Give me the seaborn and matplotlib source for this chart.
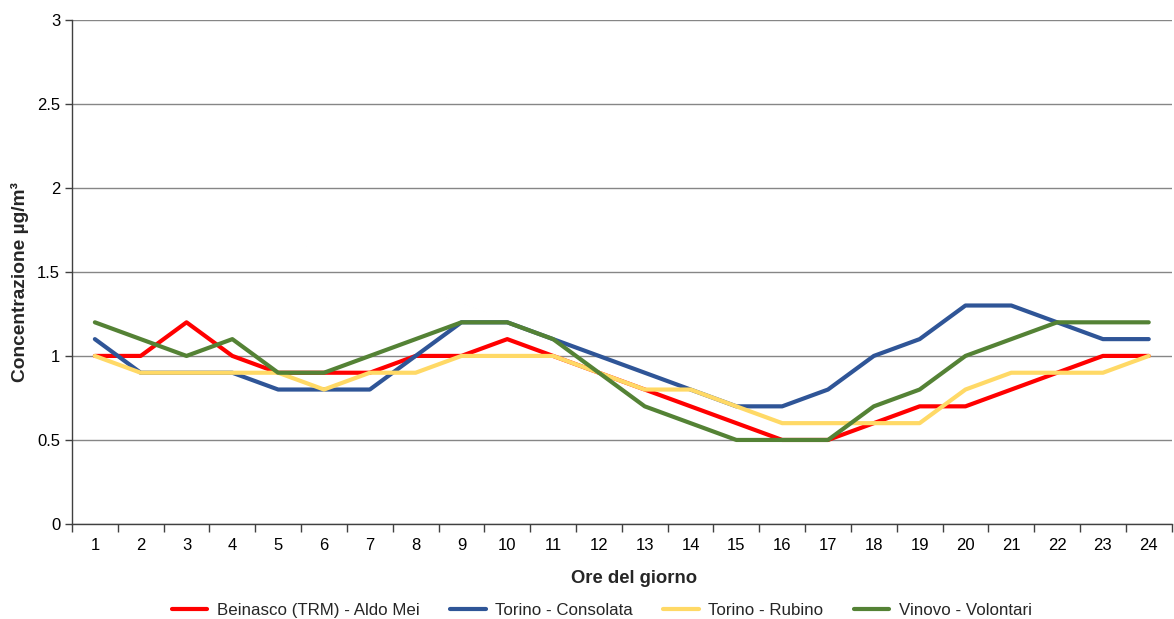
import numpy as np
import pandas as pd
import matplotlib
matplotlib.use("Agg")
import matplotlib.pyplot as plt
import seaborn as sns
from matplotlib.ticker import FixedLocator, FuncFormatter

hours = list(range(1, 25))

beinasco = [1.0, 1.0, 1.2, 1.0, 0.9, 0.9, 0.9, 1.0, 1.0, 1.1, 1.0, 0.9,
            0.8, 0.7, 0.6, 0.5, 0.5, 0.6, 0.7, 0.7, 0.8, 0.9, 1.0, 1.0]
consolata = [1.1, 0.9, 0.9, 0.9, 0.8, 0.8, 0.8, 1.0, 1.2, 1.2, 1.1, 1.0,
             0.9, 0.8, 0.7, 0.7, 0.8, 1.0, 1.1, 1.3, 1.3, 1.2, 1.1, 1.1]
rubino = [1.0, 0.9, 0.9, 0.9, 0.9, 0.8, 0.9, 0.9, 1.0, 1.0, 1.0, 0.9,
          0.8, 0.8, 0.7, 0.6, 0.6, 0.6, 0.6, 0.8, 0.9, 0.9, 0.9, 1.0]
vinovo = [1.2, 1.1, 1.0, 1.1, 0.9, 0.9, 1.0, 1.1, 1.2, 1.2, 1.1, 0.9,
          0.7, 0.6, 0.5, 0.5, 0.5, 0.7, 0.8, 1.0, 1.1, 1.2, 1.2, 1.2]

stations = ["Beinasco (TRM) - Aldo Mei", "Torino - Consolata",
            "Torino - Rubino", "Vinovo - Volontari"]
colors = ["#FF0000", "#2F5597", "#FFD966", "#548235"]

df = pd.concat([
    pd.DataFrame({"Ora": hours, "Valore": vals, "Stazione": name})
    for name, vals in zip(stations, [beinasco, consolata, rubino, vinovo])
])

sns.set_theme(style="white")
plt.rcParams["font.family"] = ["Liberation Sans", "DejaVu Sans"]

fig = plt.figure(figsize=(11.74, 6.19), dpi=100)
ax = fig.add_axes([0.0613, 0.1535, 0.9367, 0.8145])

sns.lineplot(data=df, x="Ora", y="Valore", hue="Stazione",
             palette=dict(zip(stations, colors)), linewidth=3,
             ax=ax, legend=True, zorder=3)

ax.set_xlim(0.5, 24.5)
ax.set_ylim(0, 3)
ax.set_yticks(np.arange(0, 3.01, 0.5))
ax.yaxis.set_major_formatter(FuncFormatter(lambda v, _: f"{v:g}"))
ax.grid(axis="y", color="#868686", linewidth=1)
ax.grid(axis="x", visible=False)
ax.set_axisbelow(True)

ax.set_xticks(hours)
ax.set_xticklabels([str(h) for h in hours])
ax.xaxis.set_minor_locator(FixedLocator(np.arange(0.5, 24.6, 1)))
ax.tick_params(axis="x", which="major", length=0, pad=10, labelsize=12,
               colors="black")
ax.tick_params(axis="x", which="minor", length=6, width=1, color="#404040",
               direction="out", bottom=True)
ax.tick_params(axis="y", which="major", length=5, width=1, color="#404040",
               direction="out", left=True, labelsize=12, colors="black")

for side in ["top", "right"]:
    ax.spines[side].set_visible(False)
for side in ["left", "bottom"]:
    ax.spines[side].set_color("#404040")
    ax.spines[side].set_linewidth(1)

ax.set_xlabel("Ore del giorno", fontsize=13.3, fontweight="bold")
ax.set_ylabel("Concentrazione µg/m³", fontsize=13.8, fontweight="bold")
ax.xaxis.set_label_coords(0.511, -0.091)
ax.yaxis.set_label_coords(-0.039, 0.48)

handles, labels = ax.get_legend_handles_labels()
ax.legend(handles, labels, loc="center", bbox_to_anchor=(0.5125, 0.0145),
          bbox_transform=fig.transFigure, ncol=4, frameon=False,
          fontsize=12.2, handlelength=2.1, columnspacing=1.8,
          handletextpad=0.55)

fig.savefig("out.png", dpi=100)
